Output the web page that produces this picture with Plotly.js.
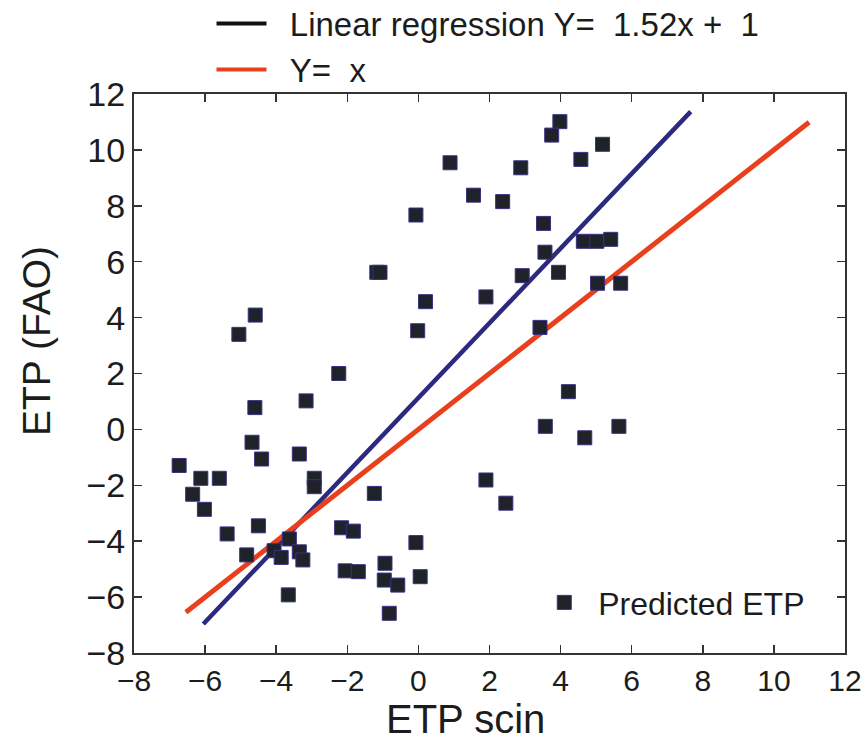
<!DOCTYPE html>
<html>
<head>
<meta charset="utf-8">
<script src="https://cdn.plot.ly/plotly-3.0.1.min.js"></script>
<style>
  html, body { margin: 0; padding: 0; background: #ffffff; }
  #chart { width: 865px; height: 745px; }
</style>
</head>
<body>
<div id="chart"></div>
<script>
// Observed ETP scin (x) against FAO ETP (y)
const predX = [0.89, 1.55, -0.07, -1.17, -1.08, 0.20, -0.02, 1.90, -4.59, -5.05,
  -2.24, 3.98, 3.75, 5.18, 2.88, 4.57, 2.37, 3.52, 4.64, 5.02,
  5.41, 3.56, 2.92, 3.94, 5.04, 5.69, 3.42, -4.60, -3.16, -4.68,
  -4.41, -3.35, -6.73, -6.12, -5.60, -2.93, -2.93, -6.35, -6.02, -1.24,
  -4.50, -5.38, -2.16, -1.83, -3.63, -4.83, -4.06, -3.86, -3.35, -3.25,
  -0.07, -0.94, -2.06, -1.69, -0.96, -0.58, 0.05, -3.66, -0.82, 1.90,
  4.22, 3.57, 4.68, 5.64, 2.46];
const predY = [9.54, 8.38, 7.67, 5.62, 5.62, 4.57, 3.53, 4.74, 4.09, 3.40,
  2.00, 11.01, 10.53, 10.20, 9.36, 9.66, 8.15, 7.37, 6.73, 6.73,
  6.80, 6.34, 5.50, 5.62, 5.23, 5.23, 3.65, 0.78, 1.02, -0.46,
  -1.06, -0.88, -1.29, -1.75, -1.75, -1.75, -2.05, -2.32, -2.86, -2.29,
  -3.45, -3.74, -3.52, -3.64, -3.92, -4.49, -4.34, -4.58, -4.38, -4.67,
  -4.05, -4.79, -5.06, -5.09, -5.39, -5.57, -5.27, -5.92, -6.58, -1.81,
  1.35, 0.11, -0.30, 0.11, -2.64];

// Fitted regression segment and the 1:1 reference segment
const regX = [-6.05, 7.66];
const regY = [-6.96, 11.37];
const identX = [-6.54, 10.99];
const identY = [-6.54, 10.99];

const NB = "\u00a0";
const regName = NB + NB + "Linear regression Y=" + NB + NB + "1.52x" + NB + "+" + NB + NB + "1";
const identName = NB + NB + "Y=" + NB + NB + "x";
const predName = NB + "Predicted ETP";

const FONT = "Liberation Sans, Arial, Helvetica, sans-serif";
const INK = "#1c1c1c";
const NAVY = "#2c2a7f";
const RED = "#e8401c";

const traces = [
  { // regression line (drawn)
    x: regX, y: regY, type: "scatter", mode: "lines",
    line: { color: NAVY, width: 4.5 }, showlegend: false, hoverinfo: "skip"
  },
  { // 1:1 line
    x: identX, y: identY, type: "scatter", mode: "lines",
    line: { color: RED, width: 5 }, showlegend: false, hoverinfo: "skip"
  },
  { // legend key for the regression
    x: [null], y: [null], type: "scatter", mode: "lines",
    name: regName, line: { color: "#111111", width: 4 }, legend: "legend"
  },
  { // legend key for Y = x
    x: [null], y: [null], type: "scatter", mode: "lines",
    name: identName, line: { color: RED, width: 4 }, legend: "legend"
  },
  {
    x: predX, y: predY, type: "scatter", mode: "markers", name: predName,
    marker: { symbol: "square", size: 14, color: "#1d2328",
              line: { color: "#3b2f86", width: 1 } },
    legend: "legend2"
  }
];

const axisCommon = {
  range: [-8, 12], dtick: 2, tick0: 0,
  showgrid: false, zeroline: false,
  showline: true, linecolor: "#333333", linewidth: 2,
  mirror: "ticks", ticks: "inside", ticklen: 8, tickwidth: 1.5, tickcolor: "#333333",
  tickfont: { family: FONT, size: 31, color: INK }
};

const layout = {
  width: 865, height: 745,
  margin: { l: 134, r: 20, t: 94, b: 92, autoexpand: false },
  paper_bgcolor: "#ffffff", plot_bgcolor: "#ffffff",
  font: { family: FONT, color: INK },
  xaxis: Object.assign({}, axisCommon, {
    tickfont: { family: FONT, size: 30, color: INK },
    ticklabelstandoff: 0
  }),
  yaxis: Object.assign({}, axisCommon, {
    tickfont: { family: FONT, size: 34, color: INK },
    ticklabelstandoff: 0
  }),
  legend: {
    x: 0.109, y: 1.176, xanchor: "left", yanchor: "top",
    bgcolor: "rgba(0,0,0,0)", borderwidth: 0,
    font: { family: FONT, size: 33, color: INK },
    itemwidth: 50, tracegroupgap: 0
  },
  legend2: {
    x: 0.57, y: 0.041, xanchor: "left", yanchor: "bottom",
    bgcolor: "rgba(0,0,0,0)", borderwidth: 0,
    font: { family: FONT, size: 32, color: INK },
    itemwidth: 40
  },
  annotations: [
    { text: "ETP scin", xref: "paper", yref: "paper",
      x: (465 - 134) / 711, y: -(743 - 653) / 559, xanchor: "center", yanchor: "bottom",
      showarrow: false, font: { family: FONT, size: 40, color: INK } },
    { text: "ETP (FAO)", xref: "paper", yref: "paper",
      x: (36 - 134) / 711, y: (653 - 341) / 559, xanchor: "center", yanchor: "middle",
      textangle: -90, showarrow: false, font: { family: FONT, size: 39, color: INK } }
  ],
  showlegend: true
};

Plotly.newPlot("chart", traces, layout, { displayModeBar: false, staticPlot: true });
</script>
</body>
</html>
